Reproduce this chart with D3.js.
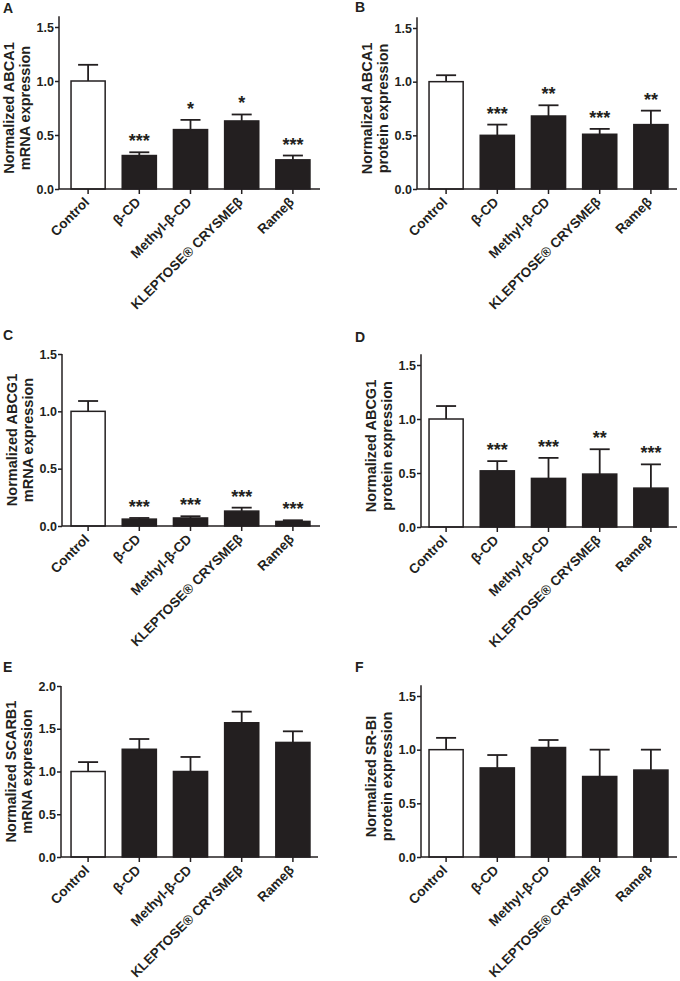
<!DOCTYPE html>
<html>
<head>
<meta charset="utf-8">
<script src="https://d3js.org/d3.v7.min.js"></script>
<style>
  body { margin: 0; background: #fff; }
  svg text { font-family: "Liberation Sans", Arial, sans-serif; fill: #231f20; }
  .axis path, .axis line { stroke: #231f20; stroke-width: 1.5; }
  .axis text { font-size: 12.5px; font-weight: bold; }
</style>
</head>
<body>
<script>
// groups on the x axis, same for every panel
var categories = ["Control", "β-CD", "Methyl-β-CD", "KLEPTOSE® CRYSME\u03b2", "Rame\u03b2"];

// A - ABCA1 mRNA
var abca1Mrna    = [1.00, 0.31, 0.55, 0.63, 0.27];
var abca1MrnaErr = [0.15, 0.03, 0.09, 0.06, 0.04];
var abca1MrnaSig = ["", "***", "*", "*", "***"];
// B - ABCA1 protein
var abca1Prot    = [1.00, 0.50, 0.68, 0.51, 0.60];
var abca1ProtErr = [0.06, 0.10, 0.10, 0.05, 0.13];
var abca1ProtSig = ["", "***", "**", "***", "**"];
// C - ABCG1 mRNA
var abcg1Mrna    = [1.00, 0.06, 0.07, 0.13, 0.04];
var abcg1MrnaErr = [0.09, 0.01, 0.015, 0.03, 0.01];
var abcg1MrnaSig = ["", "***", "***", "***", "***"];
// D - ABCG1 protein
var abcg1Prot    = [1.00, 0.52, 0.45, 0.49, 0.36];
var abcg1ProtErr = [0.12, 0.09, 0.19, 0.23, 0.22];
var abcg1ProtSig = ["", "***", "***", "**", "***"];
// E - SCARB1 mRNA
var scarb1Mrna    = [1.00, 1.26, 1.00, 1.57, 1.34];
var scarb1MrnaErr = [0.11, 0.12, 0.17, 0.13, 0.13];
// F - SR-BI protein
var srbiProt    = [1.00, 0.83, 1.02, 0.75, 0.81];
var srbiProtErr = [0.11, 0.12, 0.07, 0.25, 0.19];

var ticks15 = [0, 0.5, 1.0, 1.5];
var ticks20 = [0, 0.5, 1.0, 1.5, 2.0];

var panels = [
  {letter: "A", title: ["Normalized ABCA1", "mRNA expression"], mean: abca1Mrna, err: abca1MrnaErr, sig: abca1MrnaSig, ticks: ticks15, top: 1.6,
   lx: 3, ly: 13, x0: 59, x1: 320, band: [62.5, 318.5], y0: 189, yTop: 27},
  {letter: "B", title: ["Normalized ABCA1", "protein expression"], mean: abca1Prot, err: abca1ProtErr, sig: abca1ProtSig, ticks: ticks15, top: 1.6,
   lx: 355, ly: 12, x0: 417, x1: 677, band: [420.5, 676.5], y0: 189, yTop: 28},
  {letter: "C", title: ["Normalized ABCG1", "mRNA expression"], mean: abcg1Mrna, err: abcg1MrnaErr, sig: abcg1MrnaSig, ticks: ticks15, top: 1.5,
   lx: 3, ly: 340, x0: 62, x1: 320, band: [62.5, 318.5], y0: 526, yTop: 354},
  {letter: "D", title: ["Normalized ABCG1", "protein expression"], mean: abcg1Prot, err: abcg1ProtErr, sig: abcg1ProtSig, ticks: ticks15, top: 1.6,
   lx: 355, ly: 342, x0: 421, x1: 677, band: [420.5, 676.5], y0: 527, yTop: 365},
  {letter: "E", title: ["Normalized SCARB1", "mRNA expression"], mean: scarb1Mrna, err: scarb1MrnaErr, sig: null, ticks: ticks20, top: 2.0,
   lx: 3, ly: 672, x0: 61, x1: 318, band: [62.5, 318.5], y0: 857, yTop: 686},
  {letter: "F", title: ["Normalized SR-BI", "protein expression"], mean: srbiProt, err: srbiProtErr, sig: null, ticks: ticks15, top: 1.6,
   lx: 355, ly: 672, x0: 421, x1: 677, band: [420.5, 676.5], y0: 857, yTop: 696}
];

var svg = d3.select("body").append("svg")
  .attr("width", 680)
  .attr("height", 981);

panels.forEach(function(p) {
  var g = svg.append("g");
  var lastTick = p.ticks[p.ticks.length - 1];

  var x = d3.scaleBand().domain(categories).range(p.band)
    .paddingInner(1/3).paddingOuter(1/6);
  var y = d3.scaleLinear().domain([0, lastTick]).range([p.y0, p.yTop]);

  // panel letter
  g.append("text").attr("x", p.lx).attr("y", p.ly)
    .style("font-size", "14px").style("font-weight", "bold")
    .text(p.letter);

  var rows = categories.map(function(c, i) {
    return {cat: c, i: i, v: p.mean[i], e: p.err[i], s: p.sig ? p.sig[i] : ""};
  });

  // error bars (upper only) drawn first so bar outline sits on top
  var eb = g.selectAll(".eb").data(rows).enter().append("g");
  eb.append("line")
    .attr("x1", function(d) { return x(d.cat) + x.bandwidth() / 2; })
    .attr("x2", function(d) { return x(d.cat) + x.bandwidth() / 2; })
    .attr("y1", function(d) { return y(d.v); })
    .attr("y2", function(d) { return y(d.v + d.e); })
    .attr("stroke", "#231f20").attr("stroke-width", 1.8);
  eb.append("line")
    .attr("x1", function(d) { return x(d.cat) + x.bandwidth() / 2 - 10; })
    .attr("x2", function(d) { return x(d.cat) + x.bandwidth() / 2 + 10; })
    .attr("y1", function(d) { return y(d.v + d.e); })
    .attr("y2", function(d) { return y(d.v + d.e); })
    .attr("stroke", "#231f20").attr("stroke-width", 1.8);

  // bars
  g.selectAll(".bar").data(rows).enter().append("rect")
    .attr("x", function(d) { return x(d.cat); })
    .attr("width", x.bandwidth())
    .attr("y", function(d) { return y(d.v); })
    .attr("height", function(d) { return y(0) - y(d.v); })
    .attr("fill", function(d) { return d.i === 0 ? "#fff" : "#231f20"; })
    .attr("stroke", "#231f20").attr("stroke-width", 1.5);

  // significance stars
  g.selectAll(".sig").data(rows.filter(function(d) { return d.s; })).enter().append("text")
    .attr("x", function(d) { return x(d.cat) + x.bandwidth() / 2; })
    .attr("y", function(d) { return y(d.v + d.e) - 5; })
    .attr("text-anchor", "middle")
    .style("font-size", "18px").style("font-weight", "bold")
    .text(function(d) { return d.s; });

  // y axis
  var yAxis = g.append("g").attr("class", "axis")
    .attr("transform", "translate(" + p.x0 + ",0)")
    .call(d3.axisLeft(y).tickValues(p.ticks).tickFormat(d3.format(".1f"))
      .tickSize(4).tickSizeOuter(0).tickPadding(1));
  yAxis.select(".domain").remove();
  yAxis.append("line")
    .attr("x1", 0).attr("x2", 0)
    .attr("y1", y(0)).attr("y2", y(p.top));

  // x axis
  var xAxis = g.append("g").attr("class", "axis")
    .attr("transform", "translate(0," + p.y0 + ")")
    .call(d3.axisBottom(x).tickSize(5).tickSizeOuter(0));
  xAxis.select(".domain").remove();
  xAxis.append("line")
    .attr("x1", p.x0).attr("x2", p.x1).attr("y1", 0).attr("y2", 0);
  xAxis.selectAll(".tick text")
    .attr("text-anchor", "end")
    .attr("x", 0).attr("y", 0).attr("dy", 0)
    .attr("transform", "translate(2,14) rotate(-45)")
    .style("font-size", "13.5px");

  // y title, two lines
  var mid = (y(0) + y(lastTick)) / 2;
  p.title.forEach(function(t, k) {
    g.append("text")
      .attr("transform", "translate(" + (p.x0 - 45 + k * 16) + "," + mid + ") rotate(-90)")
      .attr("text-anchor", "middle")
      .style("font-size", "14.5px").style("font-weight", "bold")
      .text(t);
  });
});
</script>
</body>
</html>
